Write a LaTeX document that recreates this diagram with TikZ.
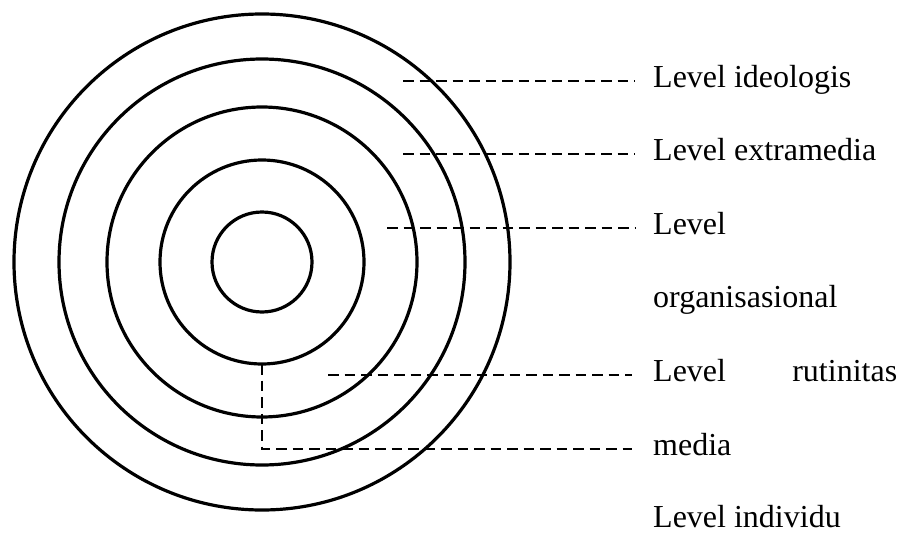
\documentclass[tikz,border=0pt]{standalone}
\usepackage{fontspec}
\setmainfont{Liberation Serif}
\begin{document}
\begin{tikzpicture}[x=1pt,y=-1pt,
  ring/.style={draw=black,line width=3.2pt},
  dashline/.style={draw=black,line width=2.4pt,dash pattern=on 10.5pt off 6pt},
  lbl/.style={anchor=base west,inner sep=0pt,font=\fontsize{32}{38}\selectfont}]
\useasboundingbox (0,0) rectangle (906,533);
% rings
\coordinate (c) at (262,262);
\foreach \r/\n in {50/r1,102/r2,155/r3,203/r4,248/r5}
  \draw[ring] (c) circle[radius=\r];
% labels
\node[lbl] (t1) at (653,87) {Level ideologis};
\node[lbl] (t2) at (653,160) {Level extramedia};
\node[lbl] (t3) at (653,234) {Level};
\node[lbl] (t4) at (653,307) {organisasional};
\node[lbl] (t5) at (653,381) {\makebox[244pt]{Level\hfill rutinitas}};
\node[lbl] (t6) at (653,455) {media};
\node[lbl] (t7) at (653,527) {Level individu};
% dashed leaders
\coordinate (s1) at (403,81);
\coordinate (s2) at (403,154);
\coordinate (s3) at (387,228);
\coordinate (s5) at (328,375);
\coordinate (s6) at (262,364);
\coordinate (k6) at (262,449);
\coordinate (e1) at (635,81);
\coordinate (e2) at (635,154);
\coordinate (e3) at (635,228);
\coordinate (e5) at (632,375);
\coordinate (e6) at (632,449);
\draw[dashline] (s1) -- (e1);
\draw[dashline] (s2) -- (e2);
\draw[dashline] (s3) -- (e3);
\draw[dashline] (s5) -- (e5);
\draw[dashline] (s6) -- (k6) -- (e6);
\end{tikzpicture}
\end{document}
